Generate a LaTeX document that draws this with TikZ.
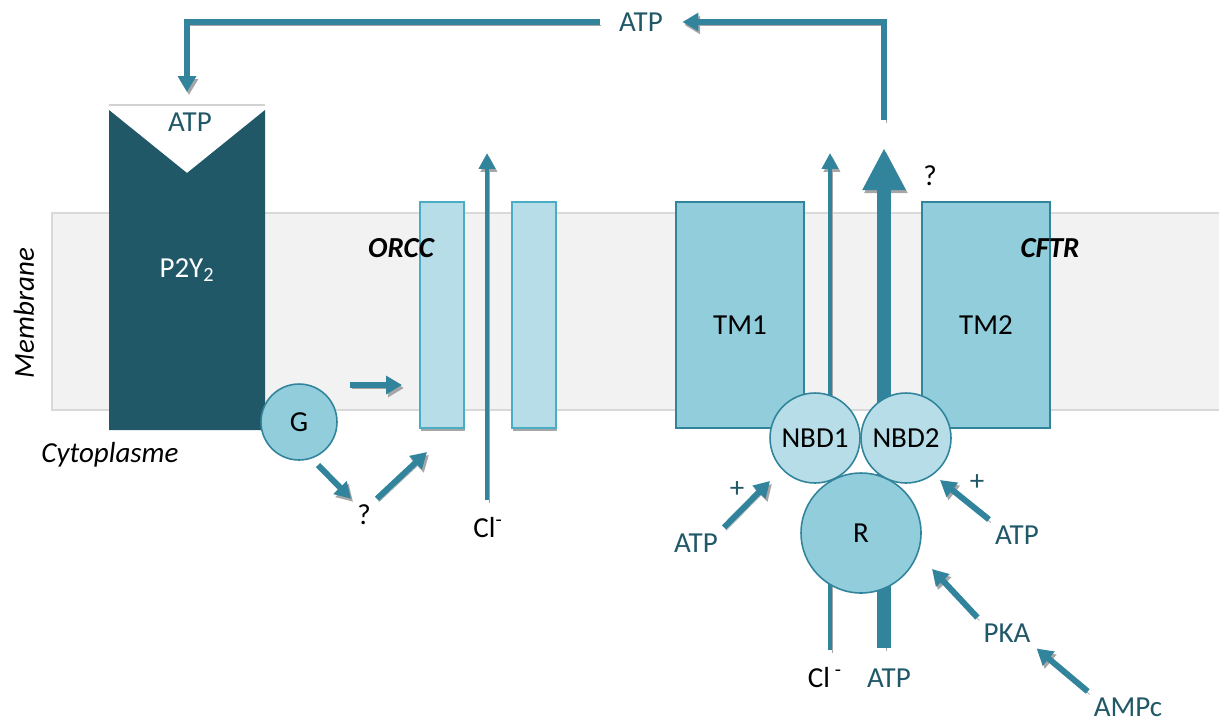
\documentclass[tikz,border=0pt]{standalone}
\usepackage{fontspec}
\setmainfont{Carlito}
\usetikzlibrary{arrows.meta}
\definecolor{sarcelle}{HTML}{31849B}
\definecolor{sombre}{HTML}{215868}
\definecolor{clair}{HTML}{92CDDC}
\definecolor{pale}{HTML}{B7DEE8}
\definecolor{bord}{HTML}{4BACC6}
\definecolor{ombregris}{HTML}{A6A6A6}
\definecolor{fondmemb}{HTML}{F2F2F2}
\definecolor{traitmemb}{HTML}{D9D9D9}

\begin{document}
\begin{tikzpicture}[
  x=0.02cm,y=-0.02cm,
  font=\fontsize{16.5}{19}\selectfont,
  ombre/.style={preaction={draw=ombregris,transform canvas={shift={(1.1pt,-1.7pt)}}}},
  fleche/.style={ombre,draw=sarcelle,line width=3.4pt,-{Triangle[length=9pt,width=10pt]}},
  fine/.style={ombre,draw=sarcelle,line width=2.8pt,-{Triangle[length=9pt,width=9pt]}},
  grosse/.style={ombre,draw=sarcelle,line width=8pt,-{Triangle[length=24pt,width=23pt]}},
  canal/.style={draw=bord,fill=pale,line width=0.9pt,minimum width=0.88cm,minimum height=4.52cm,inner sep=0pt,
    preaction={fill=ombregris,transform canvas={shift={(0.8pt,-1.7pt)}}}},
  domaine/.style={draw=sarcelle,fill=clair,line width=0.9pt,minimum width=2.56cm,minimum height=4.52cm,text height=0.76cm,text depth=0pt},
  rond/.style={circle,draw=sarcelle,line width=0.9pt,inner sep=0pt},
  bleu/.style={text=sombre},
  titre/.style={font=\fontsize{16.5}{19}\selectfont\bfseries\itshape}
]
\useasboundingbox (0,0) rectangle (1219,721);

\fill[fondmemb] (52,213) rectangle (1219,410);
\draw[traitmemb,line width=1pt] (1219,213) -- (52,213) -- (52,410) -- (1219,410);
\node[rotate=90,font=\fontsize{16.5}{19}\selectfont\itshape] (memb) at (24,313) {Membrane};
\node[font=\fontsize{16.5}{19}\selectfont\itshape] (cyto) at (110,455) {Cytoplasme};

\fill[sombre] (109,110) -- (187,173) -- (265,110) -- (265,430) -- (109,430) -- cycle;
\draw[gray!35,line width=0.6pt] (109,105) -- (265,105);
\node[text=white] (p2y) at (187,270) {P2Y\textsubscript{2}};
\node[bleu] (atpP) at (190,122) {ATP};
\coordinate (recept) at (187,92);

\node[canal] (orcc1) at (442,315) {};
\node[canal] (orcc2) at (534,315) {};
\node[titre] (orcc) at (401,248) {ORCC};
\node (clo) at (488,528) {Cl\textsuperscript{-}};
\coordinate (cl1bas) at (487,500);
\coordinate (cl1haut) at (487,153);
\draw[fine] (cl1bas) -- (cl1haut);

\node[rond,fill=clair,minimum size=1.52cm] (G) at (299,422) {G};
\node (q1) at (364,515) {?};
\coordinate (gsort) at (318,465);
\coordinate (orccin) at (427,452);
\coordinate (hA) at (350,385);
\coordinate (hB) at (402,385);

\node[domaine] (tm1) at (740,315) {TM1};
\node[domaine] (tm2) at (986,315) {TM2};
\node[titre] (cftr) at (1050,248) {CFTR};
\node (q2) at (930,176) {?};

\coordinate (cl2bas) at (830,650);
\coordinate (cl2haut) at (830,153);
\coordinate (atpbas) at (884,648);
\coordinate (atphaut) at (884,148);
\draw[fine] (cl2bas) -- (cl2haut);
\draw[grosse] (atpbas) -- (atphaut);

\node[rond,fill=pale,minimum size=1.8cm] (nbd1) at (815,438) {NBD1};
\node[rond,fill=pale,minimum size=1.8cm] (nbd2) at (906,438) {NBD2};
\node[rond,fill=clair,minimum size=2.4cm] (R) at (861,533) {R};

\node (clc) at (825,678) {Cl\,\textsuperscript{-}};
\node[bleu] (atpB) at (889,678) {ATP};
\node[bleu] (atpL) at (696,543) {ATP};
\node[bleu] (atpR) at (1017,535) {ATP};
\node[bleu] (plusL) at (737,490) {+};
\node[bleu] (plusR) at (977,483) {+};
\node[bleu] (pka) at (1007,633) {PKA};
\node[bleu] (ampc) at (1128,707) {AMPc};
\coordinate (nbd1in) at (770,481);
\coordinate (nbd2in) at (940,480);
\coordinate (rin) at (932,569);

\coordinate (atpsort) at (884,120);
\node[bleu,inner xsep=11pt] (atpH) at (641,22) {ATP};
\draw[fleche] (atpsort) |- (atpH.east);
\draw[fleche] (atpH.west) -| (recept);

\foreach \x/\y in {gsort/q1.north west,q1.north east/orccin,hA/hB,atpL.north east/nbd1in,atpR.north west/nbd2in,pka.north west/rin,ampc.north west/pka.south east}
  \draw[fleche] (\x) -- (\y);
\end{tikzpicture}
\end{document}
